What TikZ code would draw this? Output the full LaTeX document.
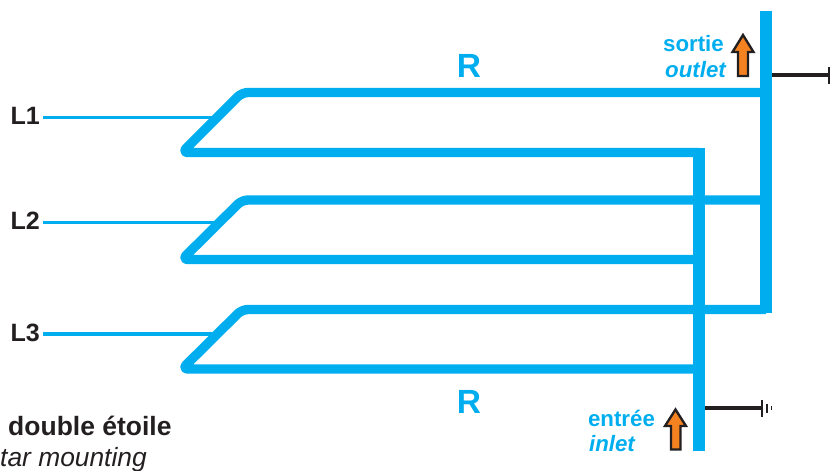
\documentclass[tikz,border=0pt]{standalone}
\usepackage{fontspec}
\setmainfont{Liberation Sans}
\usepackage{tikz}
\definecolor{busblue}{HTML}{00AEEF}
\definecolor{darkline}{HTML}{231F20}
\definecolor{floworange}{HTML}{F58220}
\tikzset{
  winding/.style={draw=busblue, line width=8pt, line join=round, rounded corners=0.18cm},
  bus/.style={draw=busblue, line width=11pt},
  feeder/.style={draw=busblue, line width=2.6pt},
  lead/.style={draw=darkline, line width=2.6pt},
  earthtick/.style={draw=darkline, line width=1.5pt},
  flowarrow/.style={draw=darkline, fill=floworange, line width=2pt, miter limit=10},
  phase/.style={inner sep=0, text=darkline, font=\fontsize{21.4}{24}\selectfont\bfseries},
  bluetext/.style={inner sep=0, text=busblue, font=\fontsize{19}{22}\selectfont\bfseries},
  blueital/.style={inner sep=0, text=busblue, font=\fontsize{19}{22}\selectfont\bfseries\itshape},
  rlabel/.style={inner sep=0, text=busblue, font=\fontsize{28.6}{32}\selectfont\bfseries}
}
\begin{document}
\begin{tikzpicture}[x=0.03cm, y=-0.03cm]
        \useasboundingbox (0,0) rectangle (830,471);
        % buses
        \coordinate (outtop) at (766,11);
        \coordinate (outbot) at (766,312.5);
        \coordinate (intop) at (699,148);
        \coordinate (inbot) at (699,451);
        % three double-star branches
        \foreach \nm/\ytop/\ybot/\yfeed/\xfeed in {L1/92.5/152.5/117.5/212, L2/200/259.5/222.5/216, L3/309.5/369/334/212}{
          \coordinate (\nm feed) at (\xfeed,\yfeed);
          \node[phase, anchor=east] (\nm) at (40,\yfeed-1.5) {\nm};
          \draw[feeder] (43,\yfeed) -- (\nm feed);
          \draw[winding] (766,\ytop) -- (242,\ytop) -- (182,\ybot) -- (699,\ybot);
        }
        \draw[bus] (outtop) -- (outbot);
        \draw[bus] (intop) -- (inbot);
        % earth leads
        \coordinate (outlead) at (772,75);
        \coordinate (outend) at (829,75);
        \coordinate (inlead) at (705,408);
        \coordinate (inend) at (762,408);
        \draw[lead] (outlead) -- (outend);
        \draw[lead] (inlead) -- (inend);
        \draw[earthtick] (829,67) -- (829,84);
        \draw[earthtick] (762,400) -- (762,417);
        \draw[earthtick] (767,404) -- (767,413);
        \draw[earthtick] (771.5,406) -- (771.5,410);
        % flow arrows
        \draw[flowarrow] (738,76) -- (738,52) -- (732.5,52) -- (743,35) -- (753.5,52) -- (748,52) -- (748,76) -- cycle;
        \draw[flowarrow] (671,449.5) -- (671,426) -- (665,426) -- (675.5,409.5) -- (686,426) -- (680.5,426) -- (680.5,449.5) -- cycle;
        % labels
        \node[rlabel] (rtop) at (469,66) {R};
        \node[rlabel] (rbot) at (469,402) {R};
        \node[bluetext] (sortie) at (693.5,44) {sortie};
        \node[blueital] (outlet) at (695.5,70) {outlet};
        \node[bluetext] (entree) at (621.5,418) {entrée};
        \node[blueital] (inlet) at (612,444) {inlet};
        \node[inner sep=0, anchor=base west, text=darkline, font=\fontsize{22.6}{26}\selectfont\bfseries] (title) at (8,435) {double étoile};
        \node[inner sep=0, anchor=base west, text=darkline, font=\fontsize{22.5}{26}\selectfont\itshape] (subtitle) at (0,466) {tar mounting};
    \end{tikzpicture}
\end{document}
